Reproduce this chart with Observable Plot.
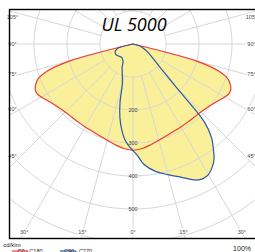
<!DOCTYPE html>
<html><head><meta charset="utf-8">
<script src="https://cdn.jsdelivr.net/npm/d3@7"></script>
<script src="https://cdn.jsdelivr.net/npm/@observablehq/plot@0.6"></script>
<style>
html,body{margin:0;padding:0;background:#fff;overflow:hidden;}
#chart{position:relative;width:255px;height:252px;overflow:hidden;}
</style></head><body><div id="chart"></div>
<script>
// ---- chart values ----
const title = "UL 5000";
const unitLabel = "cd/klm";
const scaleLabel = "100%";
const seriesNames = ["C0 - C180", "C90 - C270"];

// C0 - C180 (symmetric), gamma in degrees, intensity in cd/klm
const c0Gamma = [0, 5, 10, 15, 20, 25, 30, 35, 40, 45, 50, 55, 60, 62.5, 65, 67.5, 70, 72.5, 75, 80];
const c0c180  = [322, 318, 310, 302, 296, 292, 290, 289, 289, 291, 297, 307, 321, 327, 327, 319, 305, 272, 200, 0];

// C90 side
const c90Gamma = [0, 2.5, 5, 10, 15, 20, 25, 27.5, 30, 32.5, 35, 37.5, 40, 42.5, 45, 47.5, 50, 55, 60, 65, 70, 75, 80];
const c90      = [323, 340, 365, 392, 410, 430, 455, 460, 457, 445, 428, 400, 370, 320, 185, 130, 100, 72, 55, 40, 30, 20, 0];

// C270 side
const c270Gamma = [0, 2.5, 5, 7.5, 10, 12.5, 15, 20, 25, 30, 35, 40, 50, 60, 65, 70, 75, 80];
const c270      = [323, 308, 290, 262, 228, 182, 125, 95, 78, 60, 56, 53, 57, 61, 60, 55, 45, 0];

const ringValues = [100, 200, 300, 400, 500, 600, 700];
const ringLabels = [200, 300, 400, 500];
const rayStep = 15;
const angleLabels = [0, 15, 30, 45, 60, 75, 90, 105];

// ---- geometry ----
const W = 255, H = 252;
const frameL = 9, frameR = 256, frameT = 9, frameB = 238;
const cx = 132.5, cy = 43.5, k = 0.33; // px per cd/klm
const rad = d => d * Math.PI / 180;
const toXY = (g, v, side) => ({x: side * v * Math.sin(rad(g)), y: v * Math.cos(rad(g))});

function polygon(gL, vL, gR, vR) {
  const pts = [];
  for (let i = gL.length - 1; i >= 0; i--) pts.push(toXY(gL[i], vL[i], -1));
  for (let i = 1; i < gR.length; i++) pts.push(toXY(gR[i], vR[i], 1));
  return pts;
}
const redPoly = polygon(c0Gamma, c0c180, c0Gamma, c0c180);
const bluePoly = polygon(c270Gamma, c270, c90Gamma, c90);

const ringPts = [];
for (const r of ringValues) for (let a = 0; a <= 360; a += 2) ringPts.push({ring: r, ...toXY(a, r, 1)});
const rays = [];
for (let a = 0; a < 360; a += rayStep) {
  const p1 = toXY(a, 100, 1), p2 = toXY(a, 900, 1);
  rays.push({x1: p1.x, y1: p1.y, x2: p2.x, y2: p2.y});
}
const px2x = p => (p - cx) / k, px2y = p => (p - cy) / k;
const angLab = [];
for (const a of angleLabels) {
  for (const side of (a === 0 ? [0] : [-1, 1])) {
    const g = rad(a);
    if (a === 0) { angLab.push({x: 0, y: px2y(232), t: "0°", anchor: "middle"}); continue; }
    const ycs = cy + 112.5 * Math.cos(g) / Math.sin(g);
    if (ycs <= 232) {
      angLab.push({x: px2x(side < 0 ? 12 : 251), y: px2y(Math.max(ycs, 16.5)), t: a + "°", anchor: side < 0 ? "start" : "end"});
    } else {
      angLab.push({x: px2x(cx + side * 188.5 * Math.tan(g)), y: px2y(232), t: a + "°", anchor: side < 0 ? "end" : "start"});
    }
  }
}

const yellow = "#faf099", red = "#ee3a32", blue = "#2c58a6", grid = "#d7d7d7";
const font = "Liberation Sans, Arial, sans-serif";

const chart = Plot.plot({
  width: W, height: H,
  marginLeft: frameL, marginRight: W - frameR, marginTop: frameT, marginBottom: H - frameB,
  style: {fontFamily: font, background: "#fff", overflow: "hidden"},
  x: {domain: [px2x(frameL), px2x(frameR)], range: [frameL, frameR], axis: null},
  y: {domain: [px2y(frameT), px2y(frameB)], range: [frameT, frameB], axis: null},
  marks: [
    Plot.line(redPoly, {x: "x", y: "y", fill: yellow, stroke: "none", curve: "catmull-rom"}),
    Plot.line(bluePoly, {x: "x", y: "y", fill: yellow, stroke: "none", curve: "catmull-rom"}),
    Plot.line(ringPts, {x: "x", y: "y", z: "ring", stroke: grid, strokeWidth: 1, clip: "frame"}),
    Plot.link(rays, {x1: "x1", y1: "y1", x2: "x2", y2: "y2", stroke: grid, strokeWidth: 1, clip: "frame"}),
    Plot.line(redPoly, {x: "x", y: "y", stroke: red, strokeWidth: 1.2, curve: "catmull-rom"}),
    Plot.line(bluePoly, {x: "x", y: "y", stroke: blue, strokeWidth: 1.2, curve: "catmull-rom"}),
    Plot.text(ringLabels, {x: 0, y: d => d, text: d => String(d), fontSize: 5.5, fill: "#444"}),
    Plot.text(angLab, {x: "x", y: "y", text: "t", textAnchor: d => d.anchor, fontSize: 5.5, fill: "#444", stroke: "white", strokeWidth: 2.5}),
    Plot.text([title], {frameAnchor: "top", dx: 1, dy: 21, lineAnchor: "bottom", text: d => d, fontSize: 18, fontStyle: "italic", fontFamily: "Open Sans", fill: "#000"}),
    Plot.frame({stroke: "#000", strokeWidth: 1.4})
  ]
});
document.getElementById("chart").appendChild(chart);

// legend & captions below the frame
const svg = d3.select(chart);
svg.append("text").attr("x", 12).attr("y", 247).attr("font-size", 6).attr("font-family", font).attr("fill", "#222").text(unitLabel);
svg.append("text").attr("x", 251).attr("y", 250.5).attr("text-anchor", "end").attr("font-size", 7).attr("font-family", font).attr("fill", "#222").text(scaleLabel);
const legendItems = [{name: seriesNames[0], color: red, x: 12}, {name: seriesNames[1], color: blue, x: 60}];
for (const it of legendItems) {
  svg.append("line").attr("x1", it.x).attr("x2", it.x + 16).attr("y1", 251).attr("y2", 251).attr("stroke", it.color).attr("stroke-width", 1.2);
  svg.append("text").attr("x", it.x + 18).attr("y", 253).attr("font-size", 5.5).attr("font-family", font).attr("fill", "#222").text(it.name);
}
</script></body></html>
